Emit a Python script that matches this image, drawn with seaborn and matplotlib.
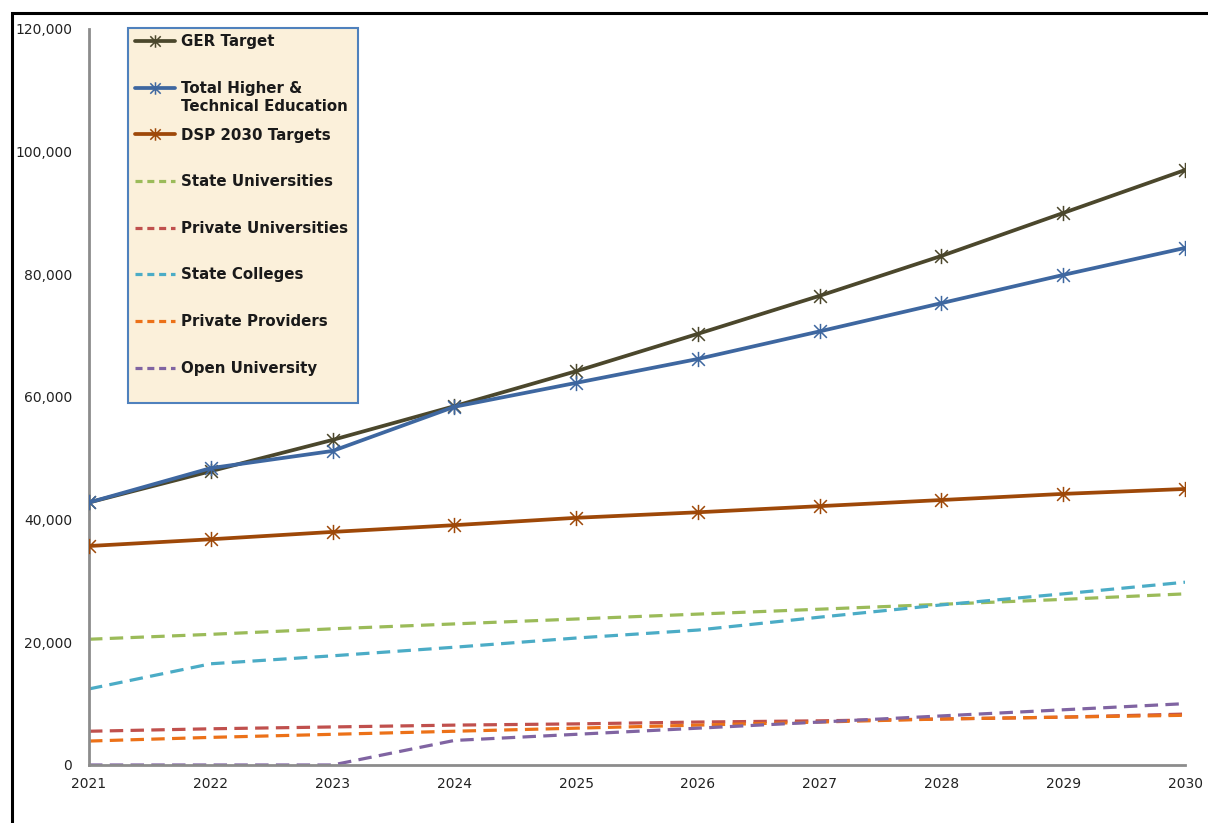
import numpy as np
import pandas as pd
import seaborn as sns
import matplotlib.pyplot as plt
from matplotlib.lines import Line2D
from matplotlib.patches import Rectangle
from matplotlib.path import Path
from matplotlib.ticker import FuncFormatter

years = [2021, 2022, 2023, 2024, 2025, 2026, 2027, 2028, 2029, 2030]

ger_target = [42800, 47900, 53000, 58500, 64200, 70300, 76500, 83000, 90000, 97000]
total_hte = [42800, 48400, 51200, 58400, 62300, 66200, 70700, 75300, 79900, 84300]
dsp_targets = [35700, 36800, 38000, 39100, 40300, 41200, 42200, 43200, 44200, 45000]
state_univ = [20500, 21300, 22200, 23000, 23800, 24600, 25400, 26200, 27000, 27900]
private_univ = [5500, 5900, 6200, 6500, 6700, 7000, 7200, 7500, 7800, 8300]
state_colleges = [12400, 16500, 17800, 19200, 20700, 22000, 24100, 26100, 27900, 29800]
private_prov = [3900, 4500, 5000, 5500, 6000, 6500, 7000, 7500, 7800, 8100]
open_univ = [0, 0, 0, 4000, 5000, 6000, 7000, 8000, 9000, 10000]

solid_series = [
    ("GER Target", ger_target, "#4b472c"),
    ("Total Higher &", total_hte, "#3e67a0"),
    ("DSP 2030 Targets", dsp_targets, "#9e4808"),
]
dashed_series = [
    ("State Universities", state_univ, "#9bbb59"),
    ("Private Universities", private_univ, "#c0504d"),
    ("State Colleges", state_colleges, "#4bacc6"),
    ("Private Providers", private_prov, "#ec7118"),
    ("Open University", open_univ, "#8064a2"),
]
total_label_line2 = "Technical Education"

sns.set_style("white")
plt.rcParams['font.family'] = ['DejaVu Sans']

fig = plt.figure(figsize=(12.08, 8.23), dpi=100)
ax = fig.add_axes([0.0737, 0.0705, 0.9073, 0.8943])

# Excel style star marker: an X crossed by a vertical bar
star = Path([(-1, -1), (1, 1), (-1, 1), (1, -1), (0, -1.2), (0, 1.2)],
            [Path.MOVETO, Path.LINETO, Path.MOVETO, Path.LINETO,
             Path.MOVETO, Path.LINETO])

handles = []
for name, vals, col in solid_series:
    df = pd.DataFrame({"year": years, "value": vals})
    sns.lineplot(data=df, x="year", y="value", ax=ax, color=col, lw=2.7,
                 marker=star, markersize=11, markeredgewidth=1.1,
                 markeredgecolor=col, zorder=3)
    handles.append(Line2D([], [], color=col, lw=2.7, marker=star,
                          markersize=9, markeredgewidth=1.1))

for name, vals, col in dashed_series:
    df = pd.DataFrame({"year": years, "value": vals})
    sns.lineplot(data=df, x="year", y="value", ax=ax, color=col, lw=2.3,
                 dashes=False, zorder=2)
    ax.lines[-1].set_dashes((4.2, 2.3))
    handles.append(Line2D([], [], color=col, lw=2.3, dashes=(2.2, 1.5)))

ax.set_xlim(2021, 2030)
ax.set_ylim(0, 120000)
ax.set_xticks(years)
ax.set_yticks(np.arange(0, 120001, 20000))
ax.yaxis.set_major_formatter(FuncFormatter(lambda v, p: f"{int(v):,}"))
ax.set_xlabel("")
ax.set_ylabel("")
ax.tick_params(axis="both", length=0, labelsize=10, colors="#222222")
ax.tick_params(axis="y", pad=12)
ax.tick_params(axis="x", pad=9)
for s in ["top", "right"]:
    ax.spines[s].set_visible(False)
for s in ["left", "bottom"]:
    ax.spines[s].set_color("#8c8c8c")
    ax.spines[s].set_linewidth(2)

# legend background box (drawn separately so the entries can keep an even pitch)
ax.add_patch(Rectangle((0.0356, 0.4918), 0.2098, 0.5096, transform=ax.transAxes,
                       facecolor="#fbf0da", edgecolor="#4f81bd", lw=1.5,
                       zorder=4.5, clip_on=False))

leg = ax.legend(handles, [n for n, _, _ in solid_series + dashed_series],
                loc="upper left", bbox_to_anchor=(0.0356, 1.002),
                frameon=False, handlelength=2.7,
                handletextpad=0.4, labelspacing=2.11, borderpad=0.45,
                borderaxespad=0,
                prop={"weight": "bold", "size": 10.8})
leg.set_zorder(5)
for t in leg.get_texts():
    t.set_color("#1a1a1a")

ax.annotate(total_label_line2, xy=(0, 0), xycoords=leg.get_texts()[1],
            xytext=(0, -2.5), textcoords="offset points", ha="left", va="top",
            fontsize=10.8, fontweight="bold", color="#1a1a1a", zorder=6,
            annotation_clip=False)

# outer black border of the original slide
fig.patches.append(Rectangle((12 / 1208, -0.1), 1.2, (1 - 13 / 823) + 0.1,
                             transform=fig.transFigure, fill=False,
                             edgecolor="black", lw=2.2, zorder=10))

fig.savefig("out.png", dpi=100)
